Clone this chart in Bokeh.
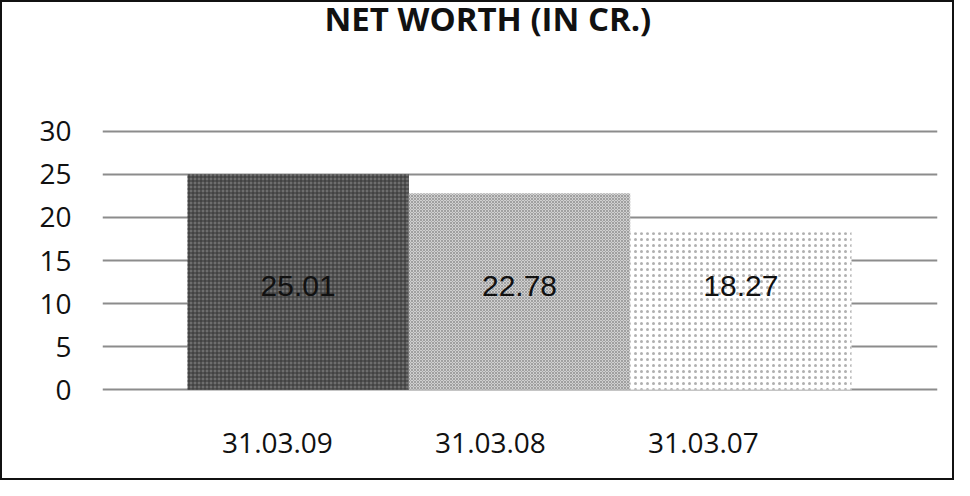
from bokeh.plotting import figure
from bokeh.models import (ColumnDataSource, Range1d, FixedTicker,
                          Title, LinearAxis)
from bokeh.core.properties import value
from bokeh.embed import file_html
from bokeh.resources import INLINE

# ---- data ----
categories = ["31.03.09", "31.03.08", "31.03.07"]
net_worth = [25.01, 22.78, 18.27]
value_labels = ["25.01", "22.78", "18.27"]
y_ticks = [0, 5, 10, 15, 20, 25, 30]
title_text = "NET WORTH (IN CR.)"

# ---- styles ----
fills = ["#6e6e6e", "#d0d0d0", "#ffffff"]
hatch_patterns = ["+", "x", "."]
hatch_colors = ["#333333", "#a0a0a0", "#b0b0b0"]
hatch_scales = [4, 3, 6]
label_y = 12.0

pos = list(range(len(categories)))

source = ColumnDataSource(dict(
    pos=pos, cat=categories, val=net_worth, lab=value_labels,
    fill=fills, hp=hatch_patterns, hc=hatch_colors, hs=hatch_scales,
    ly=[label_y] * len(categories),
))

p = figure(
    width=954, height=480,
    x_range=Range1d(-0.884, 2.8886),
    y_range=Range1d(-0.2, 30.2),
    output_backend="svg", toolbar_location=None,
    min_border_left=100, min_border_right=19,
    min_border_top=127, min_border_bottom=91,
)
p.styles = {"border": "2px solid #111111"}

# a white spacer panel (adjacent to the frame) lifts the title to the top edge
spacer = Title(text=".", text_font_size="1px", text_color="white", standoff=96)
title = Title(text=title_text, align="left", offset=222, vertical_align="top",
              standoff=-24, text_font="Open Sans", text_font_size="33px",
              text_font_style="bold", text_color="#111111")
p.add_layout(spacer, "above")
p.add_layout(title, "above")

p.vbar(x="pos", top="val", bottom=0, width=1.0, source=source,
       fill_color="fill", line_color=None,
       hatch_pattern="hp", hatch_color="hc", hatch_scale="hs", hatch_weight=1)

p.text(x="pos", y="ly", text="lab", source=source,
       text_font=value("Liberation Sans"), text_font_size="30px",
       text_align="center", text_baseline="middle", text_color="#111111")

p.outline_line_color = None
p.background_fill_color = "white"
p.border_fill_color = "white"

p.xgrid.grid_line_color = None
p.ygrid.grid_line_color = "#8c8c8c"
p.ygrid.grid_line_width = 2
p.ygrid.ticker = FixedTicker(ticks=y_ticks)
p.yaxis.ticker = FixedTicker(ticks=y_ticks)

# category labels on their own axis (in the scanned original they are
# slightly tighter than the bars)
p.xaxis.visible = False
p.extra_x_ranges = {"labels": Range1d(-0.8216, 3.0986)}
lab_axis = LinearAxis(x_range_name="labels",
                      ticker=FixedTicker(ticks=pos),
                      major_label_overrides={i: c for i, c in zip(pos, categories)})
p.add_layout(lab_axis, "below")

for ax in (lab_axis, p.yaxis[0]):
    ax.axis_line_color = None
    ax.major_tick_line_color = None
    ax.minor_tick_line_color = None
    ax.major_label_text_font = "Open Sans"
    ax.major_label_text_font_size = "28px"
    ax.major_label_text_color = "#111111"

p.yaxis.major_label_standoff = 25
lab_axis.major_label_standoff = 35

open("out.html", "w").write(file_html(p, INLINE))
